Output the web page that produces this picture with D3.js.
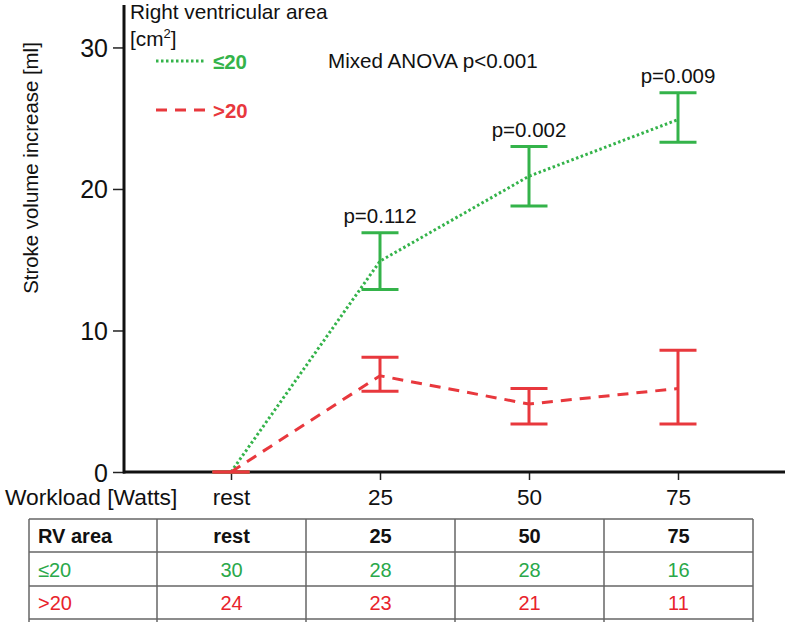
<!DOCTYPE html>
<html><head><meta charset="utf-8">
<script src="https://cdn.jsdelivr.net/npm/d3@7"></script>
<style>body{margin:0;background:#fff}svg{display:block;font-family:"Liberation Sans",Arial,sans-serif}</style>
</head><body><svg id="c" width="787" height="622"></svg>
<script>
const categories = ["rest","25","50","75"];
const greenMean = [0, 14.9, 20.9, 24.9];
const greenLow  = [0, 12.9, 18.8, 23.3];
const greenHigh = [0, 16.9, 23.0, 26.8];
const redMean = [0, 6.8, 4.8, 5.9];
const redLow  = [0, 5.7, 3.4, 3.4];
const redHigh = [0, 8.1, 5.9, 8.6];
const pLabels = ["", "p=0.112", "p=0.002", "p=0.009"];
const yTicks = [0, 10, 20, 30];
const tableHeader = ["RV area","rest","25","50","75"];
const tableGreen = ["≤20","30","28","28","16"];
const tableRed = [">20","24","23","21","11"];

const GREEN = "#34b34a", RED = "#e8383d", TGREEN = "#2aa84a", TRED = "#e8232b";
const svg = d3.select("#c");
const x = d3.scalePoint().domain(categories).range([231, 678]);
const y = d3.scaleLinear().domain([0, 33]).range([472, 5]);

// Y axis
const ya = svg.append("g").attr("transform","translate(124,0)")
  .call(d3.axisLeft(y).tickValues(yTicks).tickSize(11).tickPadding(5).tickSizeOuter(0));
ya.select(".domain").remove();
ya.selectAll(".tick line").attr("stroke","#222").attr("stroke-width",1.5);
ya.selectAll(".tick text").attr("font-size",25).attr("fill","#111").attr("font-family","Liberation Sans, Arial").attr("dy","0.36em");
svg.append("line").attr("x1",124).attr("x2",124).attr("y1",y(33)).attr("y2",y(0)+1.5).attr("stroke","#111").attr("stroke-width",3);

// X axis
const xa = svg.append("g").attr("transform","translate(0,472)")
  .call(d3.axisBottom(x).tickSize(8).tickPadding(9).tickSizeOuter(0));
xa.select(".domain").remove();
xa.selectAll(".tick line").attr("stroke","#222").attr("stroke-width",1.5);
xa.selectAll(".tick text").attr("font-size",22.5).attr("fill","#111").attr("font-family","Liberation Sans, Arial");
svg.append("line").attr("x1",123).attr("x2",785).attr("y1",472).attr("y2",472).attr("stroke","#111").attr("stroke-width",3);
svg.append("text").attr("x",5).attr("y",505).attr("font-size",22.8).attr("fill","#111").text("Workload [Watts]");

// Y label
svg.append("text").attr("transform","translate(38,168) rotate(-90)").attr("text-anchor","middle")
  .attr("font-size",20.4).attr("fill","#111").text("Stroke volume increase [ml]");

// Series
const line = d3.line().x((d,i)=>x(categories[i])).y(d=>y(d));
function errorBars(low, high, color){
  const g = svg.append("g").attr("stroke",color).attr("stroke-width",3).attr("fill","none");
  categories.forEach((c,i)=>{
    const cx = x(c);
    g.append("line").attr("x1",cx).attr("x2",cx).attr("y1",y(low[i])).attr("y2",y(high[i]));
    g.append("line").attr("x1",cx-18.5).attr("x2",cx+18.5).attr("y1",y(low[i])).attr("y2",y(low[i]));
    g.append("line").attr("x1",cx-18.5).attr("x2",cx+18.5).attr("y1",y(high[i])).attr("y2",y(high[i]));
  });
}
errorBars(greenLow, greenHigh, GREEN);
svg.append("path").datum(greenMean).attr("d",line).attr("fill","none").attr("stroke",GREEN)
  .attr("stroke-width",3).attr("stroke-dasharray","2.5,2.5");
errorBars(redLow, redHigh, RED);
svg.append("path").datum(redMean).attr("d",line).attr("fill","none").attr("stroke",RED)
  .attr("stroke-width",3).attr("stroke-dasharray","11,8");

// p labels
categories.forEach((c,i)=>{
  if(!pLabels[i]) return;
  svg.append("text").attr("x",x(c)).attr("y",y(greenHigh[i])-10).attr("text-anchor","middle")
    .attr("font-size",20.5).attr("fill","#111").text(pLabels[i]);
});
svg.append("text").attr("x",328).attr("y",68).attr("font-size",20.6).attr("fill","#111")
  .text("Mixed ANOVA p<0.001");

// Legend
svg.append("text").attr("x",130).attr("y",19).attr("font-size",20.8).attr("fill","#111").text("Right ventricular area");
const cm = svg.append("text").attr("x",130).attr("y",46).attr("font-size",20.8).attr("fill","#111");
cm.append("tspan").text("[cm");
cm.append("tspan").attr("font-size",13).attr("dy",-8).text("2");
cm.append("tspan").attr("dy",8).text("]");
svg.append("line").attr("x1",156).attr("x2",205).attr("y1",61).attr("y2",61).attr("stroke",GREEN).attr("stroke-width",3).attr("stroke-dasharray","2.5,2.5");
svg.append("text").attr("x",213).attr("y",69).attr("font-size",20.4).attr("font-weight","bold").attr("fill",GREEN).text("≤20");
svg.append("line").attr("x1",156).attr("x2",205).attr("y1",110).attr("y2",110).attr("stroke",RED).attr("stroke-width",3).attr("stroke-dasharray","11,8");
svg.append("text").attr("x",213).attr("y",118).attr("font-size",20.4).attr("font-weight","bold").attr("fill",RED).text(">20");

// Table
const colEdges = [29, 157, 306, 455, 604, 753];
const rowEdges = [519, 552, 586, 619];
const tg = svg.append("g");
rowEdges.forEach(ry=>tg.append("line").attr("x1",29).attr("x2",753).attr("y1",ry).attr("y2",ry).attr("stroke","#666").attr("stroke-width",1.5));
colEdges.forEach(cx=>tg.append("line").attr("x1",cx).attr("x2",cx).attr("y1",519).attr("y2",622).attr("stroke","#666").attr("stroke-width",1.5));
const rows = [[tableHeader,"#111","bold",20,543],[tableGreen,TGREEN,"normal",20,577],[tableRed,TRED,"normal",20,610]];
rows.forEach(([vals,col,fw,fs,by])=>{
  vals.forEach((v,j)=>{
    const t = tg.append("text").attr("y",by).attr("font-size",fs).attr("font-weight",fw).attr("fill",col).text(v);
    if(j===0) t.attr("x",38); else t.attr("x",(colEdges[j]+colEdges[j+1])/2).attr("text-anchor","middle");
  });
});
</script></body></html>
